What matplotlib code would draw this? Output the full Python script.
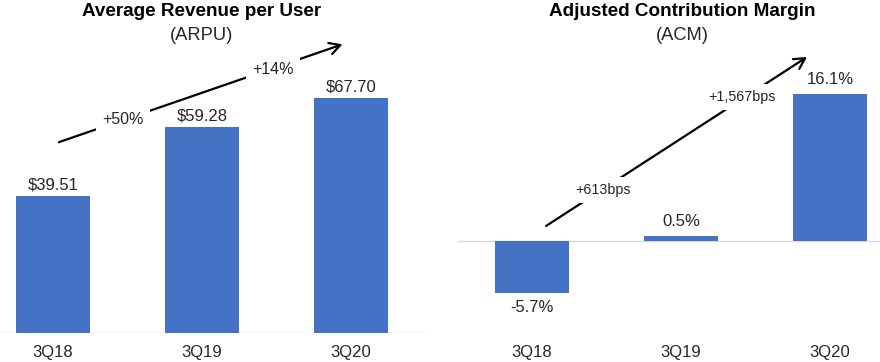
import matplotlib
matplotlib.use('Agg')
from matplotlib import pyplot as plt

plt.rcParams['font.family'] = ['Liberation Sans', 'DejaVu Sans']

quarters = ['3Q18', '3Q19', '3Q20']
arpu = [39.51, 59.28, 67.70]
arpu_labels = ['$39.51', '$59.28', '$67.70']
acm = [-5.7, 0.5, 16.1]
acm_labels = ['-5.7%', '0.5%', '16.1%']

BLUE = '#4472C4'
TXT = '#262626'

W, H = 880, 362
fig = plt.figure(figsize=(W / 100, H / 100), dpi=100)


def px_axes(left, top, right, bottom):
    return fig.add_axes([left / W, 1 - bottom / H, (right - left) / W, (bottom - top) / H])


def style(ax):
    for s in ax.spines.values():
        s.set_visible(False)
    ax.set_yticks([])
    ax.set_xticks(range(len(quarters)))
    ax.set_xticklabels(quarters, fontsize=12, color=TXT)
    ax.tick_params(axis='x', length=0, pad=9)
    ax.axhline(0, color='#d9d9d9', lw=1, zorder=1)


ARROW = dict(arrowstyle='->,head_length=0.55,head_width=0.3', lw=1.6, color='black',
             mutation_scale=14, shrinkA=0, shrinkB=0)

# left: ARPU
ax1 = px_axes(0, 20, 427, 333)
ax1.bar(range(3), arpu, width=0.5, color=BLUE, zorder=2)
ax1.set_xlim(-0.356, 2.51)
ax1.set_ylim(0, 90.2)
style(ax1)
for i, v in enumerate(arpu):
    ax1.annotate(arpu_labels[i], (i, v), xytext=(0, 8), textcoords='offset points',
                 ha='center', va='center', fontsize=12, color=TXT, zorder=6)
ax1.annotate('', xy=(1.943, 83.2), xytext=(0.04, 55.0), arrowprops=ARROW)
for txt, x, y in [('+50%', 0.469, 61.6), ('+14%', 1.474, 76.0)]:
    ax1.text(x, y, txt, ha='center', va='center', fontsize=11.5, color=TXT, zorder=5,
             bbox=dict(boxstyle='square,pad=0.4', fc='white', ec='none'))

# right: ACM
ax2 = px_axes(458, 20, 880, 333)
ax2.bar(range(3), acm, width=0.5, color=BLUE, zorder=2)
ax2.set_xlim(-0.497, 2.336)
ax2.set_ylim(-10.08, 24.2)
style(ax2)
for i, v in enumerate(acm):
    off = 10.5 if v >= 0 else -10.5
    ax2.annotate(acm_labels[i], (i, v), xytext=(0, off), textcoords='offset points',
                 ha='center', va='center', fontsize=12, color=TXT)
ax2.annotate('', xy=(1.846, 20.15), xytext=(0.094, 1.64), arrowprops=ARROW)
for txt, x, y in [('+613bps', 0.477, 5.59), ('+1,567bps', 1.409, 15.77)]:
    ax2.text(x, y, txt, ha='center', va='center', fontsize=10.3, color=TXT, zorder=5,
             bbox=dict(boxstyle='square,pad=0.4', fc='white', ec='none'))

# titles
for x, t1, t2 in [(202, 'Average Revenue per User', '(ARPU)'),
                  (682, 'Adjusted Contribution Margin', '(ACM)')]:
    fig.text(x / W, 1 - 12 / H, t1, ha='center', va='center', fontsize=13.6,
             fontweight='bold', color='black')
    fig.text(x / W, 1 - 35 / H, t2, ha='center', va='center', fontsize=13.2, color=TXT)

fig.savefig('out.png', dpi=100)
